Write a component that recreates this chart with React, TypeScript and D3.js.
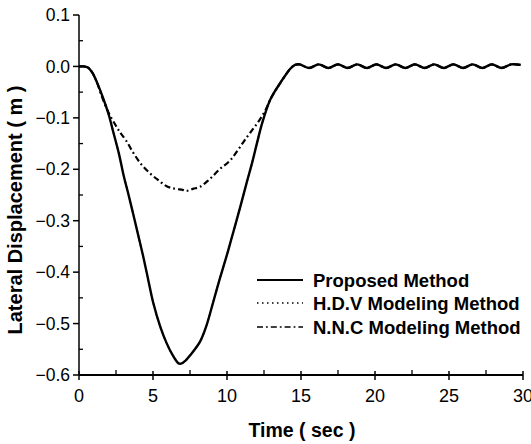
import React from "react";
import * as d3 from "d3";

// ---- data ----
const mainTime = [0, 0.3, 0.6, 0.9, 1.2, 1.65, 2.0, 2.32, 2.7, 3.0, 3.35, 3.67, 4.0, 4.35, 4.7, 5.02, 5.5, 5.92, 6.3, 6.71, 6.9, 7.2, 7.5, 8.18, 8.6, 9.07, 9.5, 9.98, 10.3, 10.66, 11.0, 11.33, 11.7, 12.0, 12.4, 12.9, 13.2, 13.58, 13.9, 14.26, 14.6];
const proposedValues = [0, 0, -0.002, -0.012, -0.03, -0.063, -0.093, -0.128, -0.17, -0.21, -0.25, -0.288, -0.328, -0.371, -0.418, -0.46, -0.507, -0.538, -0.56, -0.577, -0.578, -0.572, -0.562, -0.535, -0.505, -0.458, -0.414, -0.368, -0.335, -0.298, -0.262, -0.226, -0.187, -0.152, -0.108, -0.066, -0.05, -0.033, -0.019, -0.005, 0.003];
const hdvValues = [0, 0, -0.002, -0.012, -0.03, -0.063, -0.093, -0.128, -0.17, -0.21, -0.25, -0.288, -0.328, -0.371, -0.418, -0.46, -0.507, -0.538, -0.56, -0.577, -0.578, -0.572, -0.562, -0.535, -0.505, -0.458, -0.414, -0.368, -0.335, -0.298, -0.262, -0.226, -0.187, -0.152, -0.108, -0.066, -0.05, -0.033, -0.019, -0.005, 0.003];

const nncTime = [0, 0.3, 0.6, 0.9, 1.2, 1.5, 2.0, 2.55, 2.77, 3.2, 3.67, 4.2, 4.8, 5.4, 5.92, 6.5, 7.0, 7.27, 7.7, 8.18, 8.8, 9.5, 10.2, 10.8, 11.33, 11.8, 12.23, 12.6, 12.9, 13.2, 13.58, 13.9, 14.26, 14.6];
const nncValues = [0, 0, -0.002, -0.012, -0.03, -0.055, -0.09, -0.118, -0.128, -0.145, -0.168, -0.19, -0.208, -0.222, -0.233, -0.238, -0.24, -0.242, -0.238, -0.234, -0.22, -0.2, -0.183, -0.16, -0.138, -0.12, -0.103, -0.085, -0.066, -0.05, -0.033, -0.019, -0.005, 0.003];

// small settling ripple after ~14.6 s (shared by all methods)
const rippleTime = [14.9, 15.55, 16.2, 16.85, 17.5, 18.15, 18.8, 19.45, 20.1, 20.75, 21.4, 22.05, 22.7, 23.35, 24.0, 24.65, 25.3, 25.95, 26.6, 27.25, 27.9, 28.55, 29.2, 29.85];
const rippleValues = [0.004, -0.003, 0.004, -0.003, 0.004, -0.003, 0.004, -0.003, 0.004, -0.003, 0.004, -0.003, 0.004, -0.003, 0.004, -0.003, 0.004, -0.003, 0.004, -0.003, 0.004, -0.003, 0.004, 0.003];

const xTicks = [0, 5, 10, 15, 20, 25, 30];
const yTicks = [0.1, 0.0, -0.1, -0.2, -0.3, -0.4, -0.5, -0.6];
const xMinor = [2.5, 7.5, 12.5, 17.5, 22.5, 27.5];
const yMinor = [0.05, -0.05, -0.15, -0.25, -0.35, -0.45, -0.55];
const legendLabels = ["Proposed Method", "H.D.V Modeling Method", "N.N.C Modeling Method"];

const W = 531;
const H = 444;
const left = 79, right = 523, top = 15, bottom = 375;
const FONT = "'Liberation Sans', Arial, sans-serif";

type Pt = [number, number];
const build = (t: number[], v: number[]): Pt[] => {
  const pts: Pt[] = t.map((x, i) => [x, v[i]] as Pt);
  rippleTime.forEach((x, i) => pts.push([x, rippleValues[i]]));
  return pts;
};

export default function App() {
  const x = d3.scaleLinear().domain([0, 30]).range([left, right]);
  const y = d3.scaleLinear().domain([-0.6, 0.1]).range([bottom, top]);
  const line = d3
    .line<Pt>()
    .x((d) => x(d[0]))
    .y((d) => y(d[1]))
    .curve(d3.curveCatmullRom.alpha(0.5));

  const series = [
    { pts: build(mainTime, hdvValues), dash: "1.5,3.5", w: 1.6 },
    { pts: build(nncTime, nncValues), dash: "6,3,1.8,3", w: 2.2 },
    { pts: build(mainTime, proposedValues), dash: undefined, w: 2.4 },
  ];
  const legendDash = [undefined, "1.5,3.5", "6,3,1.8,3"];
  const legendY = [280, 303, 327];

  return (
    <svg
      width={W}
      height={H}
      style={{ position: "absolute", left: 0, top: 0, background: "#fff" }}
      fontFamily={FONT}
    >
      <rect width={W} height={H} fill="#fff" />
      {/* curves */}
      {series.map((s, i) => (
        <path
          key={i}
          d={line(s.pts) || ""}
          fill="none"
          stroke="#000"
          strokeWidth={s.w}
          strokeDasharray={s.dash}
          strokeLinejoin="round"
        />
      ))}
      {/* axes */}
      <line x1={left} x2={left} y1={top} y2={bottom} stroke="#000" strokeWidth={1.5} />
      <line x1={left} x2={right} y1={bottom} y2={bottom} stroke="#000" strokeWidth={1.8} />
      {yTicks.map((t) => (
        <g key={"y" + t}>
          <line x1={left - 6} x2={left} y1={y(t)} y2={y(t)} stroke="#000" strokeWidth={1.5} />
          <text x={left - 9} y={y(t)} dy="0.35em" textAnchor="end" fontSize={17.5}>
            {d3.format(".1f")(t)}
          </text>
        </g>
      ))}
      {yMinor.map((t) => (
        <line key={"ym" + t} x1={left} x2={left + 4} y1={y(t)} y2={y(t)} stroke="#000" strokeWidth={1.3} />
      ))}
      {xTicks.map((t) => (
        <g key={"x" + t}>
          <line x1={x(t)} x2={x(t)} y1={bottom - 4} y2={bottom + 5} stroke="#000" strokeWidth={1.5} />
          <text x={x(t)} y={bottom + 27} textAnchor="middle" fontSize={18}>
            {t}
          </text>
        </g>
      ))}
      {xMinor.map((t) => (
        <line key={"xm" + t} x1={x(t)} x2={x(t)} y1={bottom - 5} y2={bottom} stroke="#000" strokeWidth={1.3} />
      ))}
      {/* axis titles */}
      <text x={(left + right) / 2 + 1} y={437} textAnchor="middle" fontSize={19.5} fontWeight="bold">
        Time ( sec )
      </text>
      <text
        transform={`translate(22, ${210}) rotate(-90)`}
        textAnchor="middle"
        fontSize={20}
        fontWeight="bold"
      >
        Lateral Displacement ( m )
      </text>
      {/* legend */}
      {legendLabels.map((lab, i) => (
        <g key={lab}>
          <line
            x1={257}
            x2={303}
            y1={legendY[i]}
            y2={legendY[i]}
            stroke="#000"
            strokeWidth={i === 0 ? 1.8 : 1.6}
            strokeDasharray={legendDash[i]}
          />
          <text x={313} y={legendY[i]} dy="0.36em" fontSize={18.5} fontWeight="bold">
            {lab}
          </text>
        </g>
      ))}
    </svg>
  );
}
